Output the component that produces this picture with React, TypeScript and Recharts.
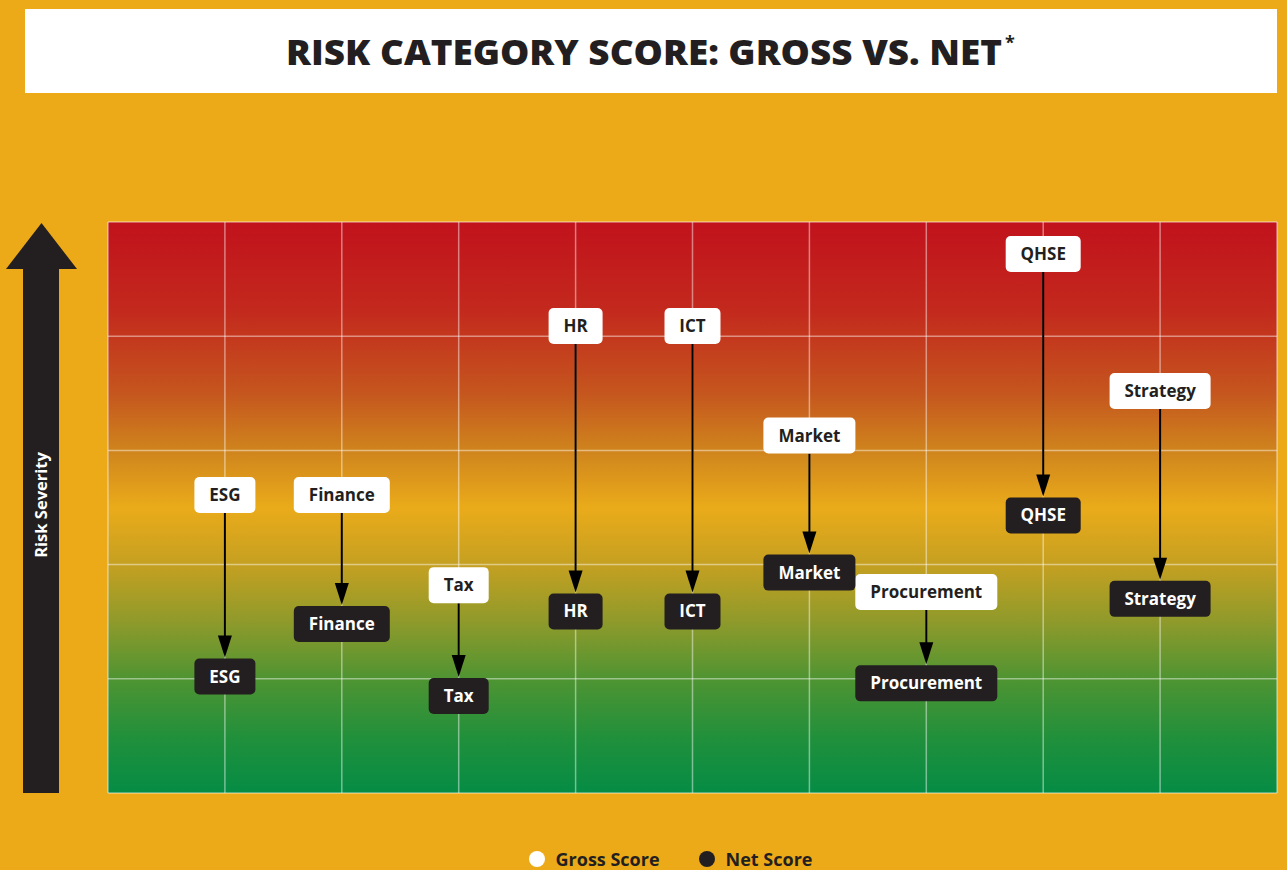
import React from 'react';
import {
  ComposedChart,
  Scatter,
  XAxis,
  YAxis,
  CartesianGrid,
  ReferenceLine,
  Legend,
} from 'recharts';

// risk categories, left to right
const categories = ['ESG', 'Finance', 'Tax', 'HR', 'ICT', 'Market', 'Procurement', 'QHSE', 'Strategy'];
// scores on a 0-5 severity scale
const grossScores = [2.61, 2.61, 1.82, 4.09, 4.09, 3.13, 1.76, 4.72, 3.52];
const netScores = [1.02, 1.48, 0.85, 1.59, 1.59, 1.93, 0.96, 2.43, 1.70];
const xTicks = [0, 1, 2, 3, 4, 5, 6, 7, 8, 9, 10];
const yTicks = [0, 1, 2, 3, 4, 5];

const PAGE_BG = '#edaa18';
const DARK = '#231f20';
const FONT = '"Open Sans", "Noto Sans", sans-serif';
const BOX_H = 36;

const grossData = categories.map((name, i) => ({ x: i + 1, y: grossScores[i], name }));
const netData = categories.map((name, i) => ({ x: i + 1, y: netScores[i], name }));

let ctx: CanvasRenderingContext2D | null = null;
const textWidth = (s: string) => {
  if (!ctx) ctx = document.createElement('canvas').getContext('2d');
  if (!ctx) return s.length * 10;
  ctx.font = `700 17px ${FONT}`;
  return ctx.measureText(s).width;
};

const makeLabel = (fill: string, color: string) => (props: any) => {
  const { cx, cy, payload } = props;
  if (cx == null || cy == null) return <g />;
  const w = Math.round(textWidth(payload.name) + 30);
  return (
    <g>
      <rect x={cx - w / 2} y={cy - BOX_H / 2} width={w} height={BOX_H} rx={5} fill={fill} />
      <text
        x={cx}
        y={cy + 6}
        textAnchor="middle"
        fontFamily={FONT}
        fontWeight={700}
        fontSize={17}
        fill={color}
      >
        {payload.name}
      </text>
    </g>
  );
};

const Arrow = (props: any) => {
  const { x1, y1, x2, y2 } = props;
  const top = y1 + BOX_H / 2;
  const tip = y2 - BOX_H / 2 - 1;
  const headH = 22;
  return (
    <g>
      <line x1={x1} y1={top} x2={x2} y2={tip - headH + 2} stroke="#000" strokeWidth={2} />
      <polygon points={`${x2 - 7},${tip - headH} ${x2 + 7},${tip - headH} ${x2},${tip}`} fill="#000" />
    </g>
  );
};

const LegendContent = (props: any) => {
  const items = props.payload || [];
  return (
    <div style={{ display: 'flex', justifyContent: 'center', gap: 39, fontFamily: FONT }}>
      {items.map((it: any) => (
        <div key={it.value} style={{ display: 'flex', alignItems: 'center', gap: 11 }}>
          <span
            style={{
              width: 16,
              height: 16,
              borderRadius: 8,
              background: it.color,
              display: 'inline-block',
            }}
          />
          <span style={{ fontWeight: 700, fontSize: 18, color: DARK, lineHeight: '22px' }}>
            {it.value}
          </span>
        </div>
      ))}
    </div>
  );
};

export default function App() {
  return (
    <div
      style={{
        position: 'fixed',
        left: 0,
        top: 0,
        width: 1287,
        height: 870,
        background: PAGE_BG,
        overflow: 'hidden',
      }}
    >
      <div
        style={{
          position: 'absolute',
          left: 25,
          top: 9,
          width: 1252,
          height: 84,
          background: '#fff',
        }}
      >
        <svg width={1252} height={84} style={{ display: 'block' }}>
          <text
            x={261}
            y={56}
            fontFamily={FONT}
            fontWeight={800}
            fontSize={36}
            fill={DARK}
            textLength={716}
            lengthAdjust="spacingAndGlyphs"
          >
            RISK CATEGORY SCORE: GROSS VS. NET
          </text>
          <text x={980} y={40} fontFamily={FONT} fontWeight={700} fontSize={18} fill={DARK}>
            *
          </text>
        </svg>
      </div>

      <svg width={90} height={870} style={{ position: 'absolute', left: 0, top: 0 }}>
        <polygon points="6,269 41.5,223 77,269" fill={DARK} />
        <rect x={23} y={268} width={36} height={525} fill={DARK} />
        <text
          x={0}
          y={0}
          transform="translate(47,505) rotate(-90)"
          textAnchor="middle"
          fontFamily={FONT}
          fontWeight={700}
          fontSize={16.5}
          fill="#fff"
        >
          Risk Severity
        </text>
      </svg>

      <div style={{ position: 'absolute', left: 0, top: 0 }}>
        <ComposedChart
          width={1287}
          height={870}
          margin={{ top: 222, right: 10, bottom: 77, left: 108 }}
        >
          <defs>
            <linearGradient id="riskGrad" x1="0" y1="0" x2="0" y2="1">
              <stop offset="0%" stopColor="#c1121c" />
              <stop offset="15%" stopColor="#c3281d" />
              <stop offset="30%" stopColor="#c5561e" />
              <stop offset="40%" stopColor="#cf841d" />
              <stop offset="50%" stopColor="#eaab1a" />
              <stop offset="60%" stopColor="#c5a021" />
              <stop offset="70%" stopColor="#8f9a2b" />
              <stop offset="80%" stopColor="#4f9432" />
              <stop offset="90%" stopColor="#22903b" />
              <stop offset="100%" stopColor="#058c45" />
            </linearGradient>
          </defs>
          <XAxis type="number" dataKey="x" domain={[0, 10]} ticks={xTicks} hide />
          <YAxis type="number" dataKey="y" domain={[0, 5]} ticks={yTicks} hide />
          <CartesianGrid
            fill="url(#riskGrad)"
            fillOpacity={1}
            stroke="rgba(255,255,255,0.45)"
            strokeWidth={1.5}
          />
          {categories.map((c, i) => (
            <ReferenceLine
              key={c}
              segment={[
                { x: i + 1, y: grossScores[i] },
                { x: i + 1, y: netScores[i] },
              ]}
              shape={Arrow}
            />
          ))}
          <Scatter
            name="Gross Score"
            data={grossData}
            fill="#ffffff"
            shape={makeLabel('#ffffff', DARK)}
            isAnimationActive={false}
          />
          <Scatter
            name="Net Score"
            data={netData}
            fill={DARK}
            shape={makeLabel(DARK, '#ffffff')}
            isAnimationActive={false}
          />
          <Legend
            layout="horizontal"
            verticalAlign="middle"
            align="center"
            content={LegendContent}
            wrapperStyle={{ top: 848, left: 27, width: 1287 }}
          />
        </ComposedChart>
      </div>
    </div>
  );
}
